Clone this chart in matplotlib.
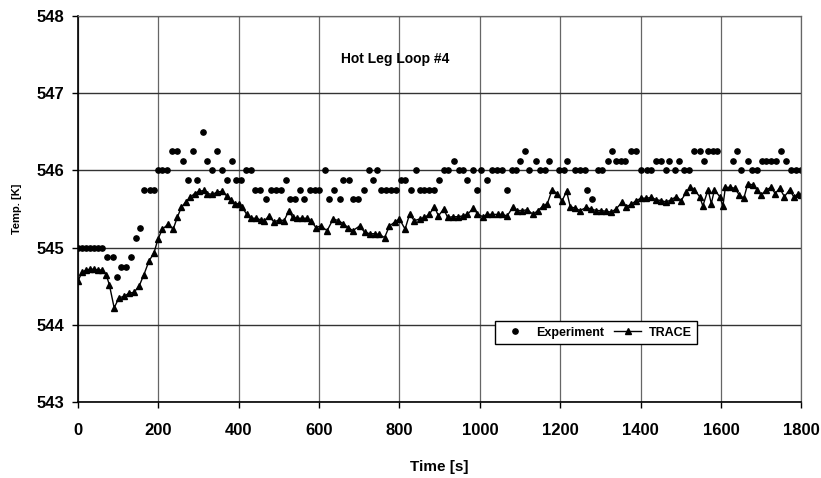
import numpy as np
import matplotlib
matplotlib.use('Agg')
import matplotlib.pyplot as plt

# measured hot leg temperature (loop #4)
exp_t = [0, 10, 20, 30, 40, 50, 60, 73, 86, 97, 107, 119, 132, 144, 155,
         165, 178, 190, 199, 210, 222, 235, 247, 262, 274, 285, 297, 310,
         320, 334, 345, 359, 370, 383, 393, 405, 417, 430, 440, 452, 467,
         480, 492, 505, 517, 527, 539, 552, 563, 577, 589, 601, 614, 624,
         637, 651, 660, 674, 684, 697, 712, 723, 734, 745, 755, 767, 780,
         792, 804, 814, 829, 840, 850, 862, 874, 887, 899, 910, 922, 935,
         947, 959, 969, 984, 992, 1004, 1019, 1031, 1043, 1056, 1067, 1079,
         1091, 1101, 1112, 1122, 1139, 1149, 1161, 1173, 1196, 1209, 1217,
         1237, 1250, 1262, 1267, 1279, 1294, 1305, 1319, 1329, 1339, 1352,
         1362, 1375, 1388, 1402, 1415, 1427, 1439, 1451, 1464, 1472, 1485,
         1495, 1508, 1520, 1534, 1547, 1558, 1569, 1580, 1591, 1630, 1640,
         1651, 1667, 1677, 1689, 1702, 1713, 1725, 1736, 1749, 1763, 1775,
         1787, 1800]
exp_T = [545.0, 545.0, 545.0, 545.0, 545.0, 545.0, 545.0, 544.875, 544.875,
         544.625, 544.75, 544.75, 544.875, 545.125, 545.25,
         545.75, 545.75, 545.75, 546.0, 546.0, 546.0, 546.25, 546.25,
         546.125, 545.875, 546.25, 545.875, 546.5,
         546.125, 546.0, 546.25, 546.0, 545.875, 546.125, 545.875, 545.875,
         546.0, 546.0, 545.75, 545.75, 545.625,
         545.75, 545.75, 545.75, 545.875, 545.625, 545.625, 545.75, 545.625,
         545.75, 545.75, 545.75, 546.0, 545.625,
         545.75, 545.625, 545.875, 545.875, 545.625, 545.625, 545.75, 546.0,
         545.875, 546.0, 545.75, 545.75, 545.75,
         545.75, 545.875, 545.875, 545.75, 546.0, 545.75, 545.75, 545.75,
         545.75, 545.875, 546.0, 546.0, 546.125,
         546.0, 546.0, 545.875, 546.0, 545.75, 546.0, 545.875, 546.0, 546.0,
         546.0, 545.75, 546.0,
         546.0, 546.125, 546.25, 546.0, 546.125, 546.0, 546.0, 546.125,
         546.0, 546.0, 546.125,
         546.0, 546.0, 546.0, 545.75, 545.625, 546.0, 546.0, 546.125, 546.25,
         546.125, 546.125,
         546.125, 546.25, 546.25, 546.0, 546.0, 546.0, 546.125, 546.125,
         546.0, 546.125, 546.0,
         546.125, 546.0, 546.0, 546.25, 546.25, 546.125, 546.25, 546.25,
         546.25, 546.125, 546.25,
         546.0, 546.125, 546.0, 546.0, 546.125, 546.125, 546.125, 546.125,
         546.25, 546.125, 546.0,
         546.0, 546.0]

# TRACE calculation
trace_t = [0, 10, 20, 30, 40, 50, 60, 70, 78, 90, 102, 115, 127, 139, 152,
           164, 177, 189, 199, 210, 224, 237, 247, 257, 268, 279, 290, 301,
           314, 322, 334, 347, 359, 370, 380, 390, 401, 409, 420, 430, 442,
           455, 463, 475, 488, 500, 513, 525, 534, 546, 558, 571, 581, 592,
           604, 620, 635, 648, 660, 672, 684, 701, 713, 726, 738, 750, 763,
           775, 788, 800, 814, 825, 837, 850, 862, 874, 887, 897, 910, 920,
           932, 945, 957, 969, 984, 994, 1007, 1019, 1031, 1044, 1056, 1068,
           1083, 1093, 1106, 1118, 1133, 1144, 1158, 1168, 1180, 1192, 1205,
           1216, 1225, 1238, 1249, 1265, 1277, 1290, 1302, 1315, 1327, 1339,
           1354, 1364, 1377, 1389, 1402, 1414, 1427, 1439, 1451, 1464, 1476,
           1489, 1501, 1514, 1524, 1534, 1547, 1555, 1568, 1576, 1584, 1597,
           1605, 1611, 1622, 1634, 1646, 1657, 1667, 1680, 1690, 1700, 1713,
           1725, 1735, 1746, 1758, 1771, 1782, 1792, 1800]
trace_T = [544.57, 544.68, 544.71, 544.72, 544.72, 544.71, 544.71, 544.65,
           544.52, 544.22, 544.35, 544.37, 544.41, 544.42, 544.50,
           544.65, 544.83, 544.93, 545.11, 545.24, 545.30, 545.24, 545.39,
           545.52, 545.59, 545.65, 545.70, 545.73,
           545.74, 545.70, 545.69, 545.72, 545.73, 545.67, 545.62, 545.57,
           545.57, 545.52, 545.43, 545.38, 545.38,
           545.36, 545.34, 545.41, 545.33, 545.36, 545.35, 545.48, 545.39,
           545.38, 545.38, 545.38, 545.34, 545.26,
           545.28, 545.22, 545.37, 545.35, 545.31, 545.26, 545.22, 545.28,
           545.20, 545.18, 545.18, 545.17, 545.13,
           545.28, 545.33, 545.37, 545.24, 545.43, 545.35, 545.37, 545.39,
           545.43, 545.53, 545.41, 545.50, 545.39,
           545.40, 545.40, 545.41, 545.43, 545.51, 545.44, 545.40, 545.43,
           545.43, 545.43, 545.43, 545.41,
           545.53, 545.48, 545.48, 545.49, 545.43, 545.48, 545.54, 545.57,
           545.75, 545.70, 545.61,
           545.73, 545.53, 545.51, 545.48, 545.52, 545.50, 545.48, 545.48,
           545.47, 545.46, 545.50,
           545.59, 545.53, 545.56, 545.61, 545.64, 545.64, 545.65, 545.62,
           545.61, 545.59, 545.62,
           545.66, 545.61, 545.72, 545.78, 545.75, 545.66, 545.54, 545.75,
           545.57, 545.75, 545.66,
           545.54, 545.78, 545.78, 545.77, 545.68, 545.64, 545.83, 545.81,
           545.75, 545.68, 545.75,
           545.78, 545.70, 545.77, 545.66, 545.75, 545.65, 545.70, 545.68]

x_ticks = np.arange(0, 1801, 200)
y_ticks = np.arange(543, 549, 1)

plt.rcParams['font.family'] = ['Liberation Sans', 'DejaVu Sans']
plt.rcParams['font.weight'] = 'bold'

fig = plt.figure(figsize=(8.21, 4.78), dpi=100)
ax = fig.add_axes([0.095, 0.159, 0.881, 0.8075])

ax.plot(exp_t, exp_T, linestyle='none', marker='o', markersize=3.8,
        color='black', label='Experiment')
ax.plot(trace_t, trace_T, linestyle='-', linewidth=1.0, marker='^',
        markersize=4.0, color='black', label='TRACE')

ax.set_xlim(0, 1800)
ax.set_ylim(543, 548)
ax.set_xticks(x_ticks)
ax.set_yticks(y_ticks)
# horizontal grid darker than the vertical one
ax.yaxis.grid(True, color='#333333', linewidth=1.0)
ax.xaxis.grid(True, color='#666666', linewidth=0.9)
ax.set_axisbelow(True)

for s in ['top', 'right']:
    ax.spines[s].set_color('#666666')
    ax.spines[s].set_linewidth(0.9)
for s in ['left', 'bottom']:
    ax.spines[s].set_color('black')
    ax.spines[s].set_linewidth(1.2)

ax.tick_params(axis='both', direction='out', length=4, width=1,
               labelsize=12, colors='black')
ax.tick_params(axis='x', pad=11)
ax.tick_params(axis='y', pad=6)
for lab in ax.get_xticklabels() + ax.get_yticklabels():
    lab.set_fontweight('bold')

ax.set_xlabel('Time [s]', fontsize=11, fontweight='bold', labelpad=16)
ax.set_ylabel('Temp. [K]', fontsize=8, fontweight='bold', labelpad=10)

ax.text(790, 547.44, 'Hot Leg Loop #4', ha='center', va='center',
        fontsize=10, fontweight='bold')

leg = ax.legend(loc='center', bbox_to_anchor=(1290, 543.9), bbox_transform=ax.transData,
                ncol=2, frameon=True, fancybox=False,
                prop={'weight': 'bold', 'size': 9}, handlelength=2.2,
                columnspacing=0.8, handletextpad=0.6, borderpad=0.45)
leg.get_frame().set_edgecolor('black')
leg.get_frame().set_linewidth(1.0)
leg.get_frame().set_alpha(1.0)

fig.savefig('out.png', dpi=100)
